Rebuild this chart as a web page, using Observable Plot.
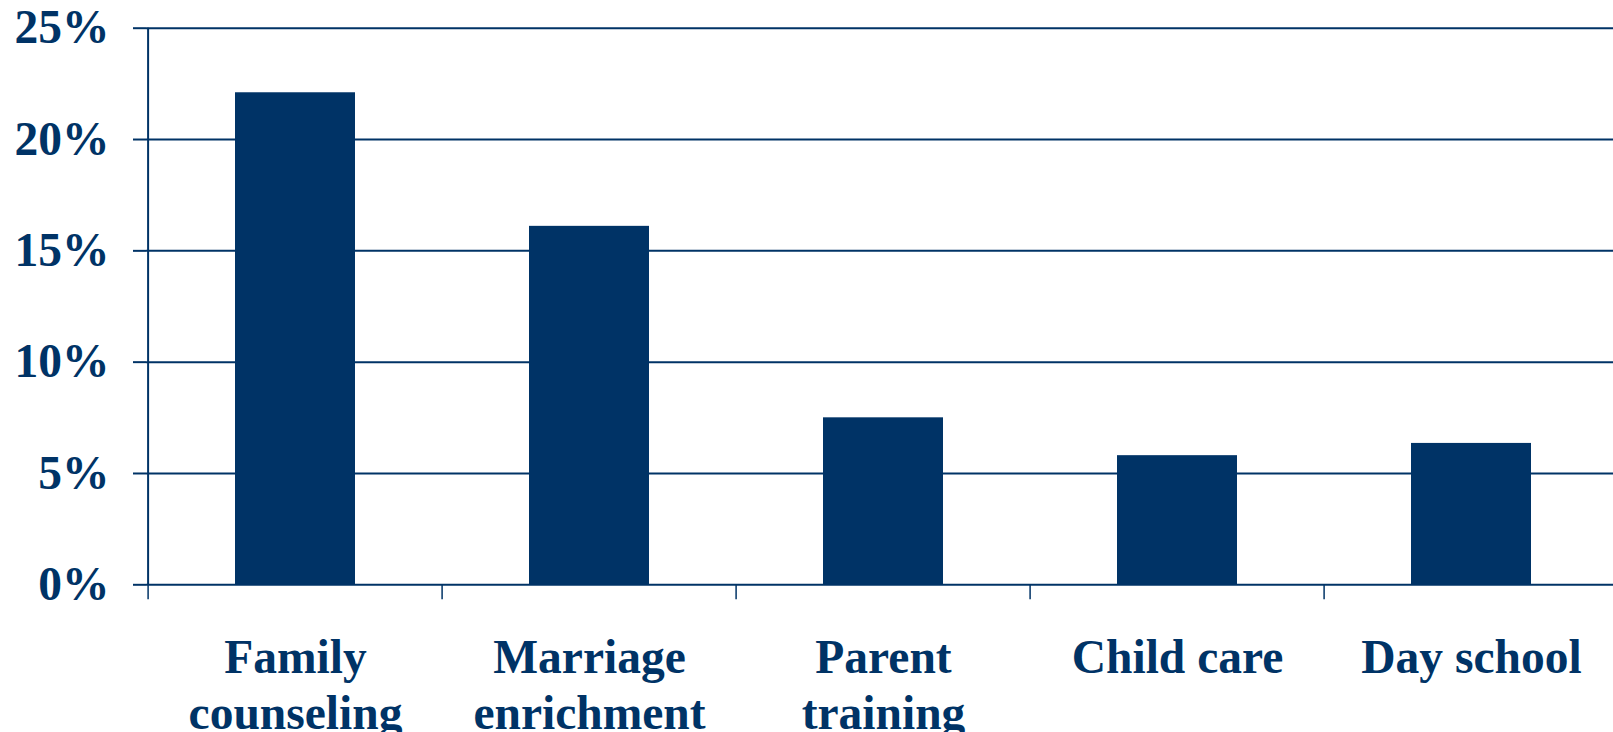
<!DOCTYPE html>
<html>
<head>
<meta charset="utf-8">
<script src="https://cdn.jsdelivr.net/npm/d3@7"></script>
<script src="https://cdn.jsdelivr.net/npm/@observablehq/plot@0.6"></script>
<style>
  html, body { margin: 0; padding: 0; background: #ffffff; overflow: hidden; }
  #chart svg { display: block; }
</style>
</head>
<body>
<div id="chart"></div>
<script>
// Data
const categories = ["Family\ncounseling", "Marriage\nenrichment", "Parent\ntraining", "Child care", "Day school"];
const shares = [22.1, 16.1, 7.5, 5.8, 6.35];
const yTicks = [0, 5, 10, 15, 20, 25];

const navy = "#003366";
const data = categories.map((c, i) => ({category: c, share: shares[i]}));

const W = 1613, H = 732;
const xStart = 146, xEnd = 1620;
const step = (xEnd - xStart) / categories.length;

const chart = Plot.plot({
  width: W,
  height: H,
  marginLeft: xStart,
  marginRight: 0,
  marginTop: 27.7,
  marginBottom: 147.7,
  style: {
    fontFamily: "'Liberation Serif', 'Times New Roman', serif",
    fontWeight: "bold",
    fontSize: "47.5px",
    color: navy,
    background: "#ffffff",
    overflow: "hidden"
  },
  x: {domain: categories, range: [xStart, xEnd], paddingInner: 0.593, paddingOuter: 0.2965, label: null},
  y: {domain: [0, 25], label: null},
  marks: [
    Plot.gridY(yTicks, {stroke: navy, strokeOpacity: 1, strokeWidth: 2}),
    Plot.barY(data, {x: "category", y: "share", fill: navy}),
    Plot.ruleX([categories[0]], {dx: -step / 2, y1: 0, y2: 25, stroke: navy, strokeWidth: 2}),
    Plot.axisY(yTicks, {
      tickFormat: d => d + "%",
      tickSize: 13,
      tickPadding: 24,
      stroke: navy,
      strokeWidth: 2,
      fill: navy,
      fontSize: 47.5,
      fontWeight: "bold",
      label: null
    }),
    Plot.axisX({
      tickSize: 15,
      fill: "none",
      dx: -step / 2,
      stroke: navy,
      strokeWidth: 1.5,
      label: null
    }),
    Plot.axisX({
      tickSize: 0,
      tickPadding: 49,
      fill: navy,
      fontSize: 47.5,
      fontWeight: "bold",
      lineHeight: 1.17,
      label: null
    })
  ]
});

document.getElementById("chart").appendChild(chart);
</script>
</body>
</html>
